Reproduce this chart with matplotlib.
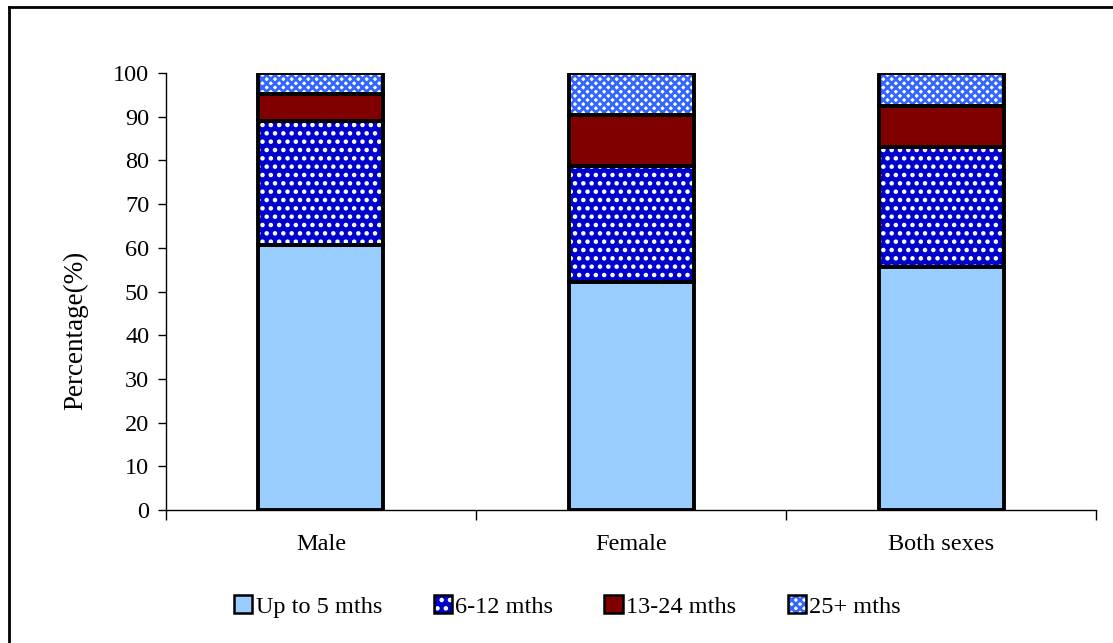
import matplotlib
matplotlib.use("Agg")
import matplotlib.pyplot as plt
import numpy as np
from matplotlib.patches import Patch

categories = ["Male", "Female", "Both sexes"]
series_names = ["Up to 5 mths", "6-12 mths", "13-24 mths", "25+ mths"]
up_to_5 = [60.6, 52.1, 55.5]
m6_12 = [28.3, 26.7, 27.6]
m13_24 = [6.3, 11.6, 9.4]
m25_plus = [4.8, 9.6, 7.5]
yticks = list(range(0, 101, 10))

plt.rcParams['font.family'] = ['Liberation Serif', 'DejaVu Serif']
plt.rcParams['hatch.linewidth'] = 2.0

fig = plt.figure(figsize=(11.13, 6.43), dpi=100)
ax = fig.add_axes([0.149, 0.2068, 0.836, 0.6797])

x = np.arange(len(categories))
w = 0.403
series = [up_to_5, m6_12, m13_24, m25_plus]
faces = ['#99CCFF', '#0000CC', '#800000', 'white']
hatches = [None, '..', None, 'xxxx']
hcolors = [None, 'white', None, '#3366FF']

bottom = np.zeros(len(categories))
for vals, fc, h, hc in zip(series, faces, hatches, hcolors):
    vals = np.array(vals)
    if h:
        ax.bar(x, vals, w, bottom=bottom, color=fc, hatch=h, edgecolor=hc, linewidth=0, zorder=2)
        ax.bar(x, vals, w, bottom=bottom, facecolor='none', edgecolor='black', linewidth=2.8, zorder=3)
    else:
        ax.bar(x, vals, w, bottom=bottom, color=fc, edgecolor='black', linewidth=2.8, zorder=3)
    bottom += vals

handles = []
for fc, h, hc, name in zip(faces, hatches, hcolors, series_names):
    if h:
        p = Patch(facecolor=fc, hatch=h, edgecolor=hc, linewidth=0, label=name)
        q = Patch(facecolor='none', edgecolor='black', linewidth=1.8)
        handles.append((p, q))
    else:
        handles.append(Patch(facecolor=fc, edgecolor='black', linewidth=1.8, label=name))

ax.set_xlim(-0.5, len(categories) - 0.5)
ax.set_ylim(0, 100)
ax.set_yticks(yticks)
ax.set_xticks(x)
ax.set_xticklabels(categories)
ax.set_xticks(np.arange(-0.5, len(categories), 1.0), minor=True)
ax.tick_params(axis='x', which='major', length=0, labelsize=17.5, pad=17)
ax.tick_params(axis='x', which='minor', length=7, width=1, direction='out')
ax.tick_params(axis='y', length=6, width=1, direction='out', labelsize=17.5, pad=6)
ax.spines['top'].set_visible(False)
ax.spines['right'].set_visible(False)
ax.spines['left'].set_linewidth(1)
ax.spines['bottom'].set_linewidth(1)
ax.set_ylabel("Percentage(%)", fontsize=19.5)
ax.yaxis.set_label_coords(-0.083, 0.41)

fig.legend(handles=handles, labels=series_names, loc='center', bbox_to_anchor=(0.51, 0.057), ncol=4,
           frameon=False, fontsize=17.5, handlelength=0.75, handleheight=0.75, handletextpad=0.15,
           columnspacing=2.1)

# figure frame (top and left edges visible)
fig.add_artist(plt.Line2D([0.008, 0.008], [0.0, 0.989], transform=fig.transFigure, color='black', lw=2))
fig.add_artist(plt.Line2D([0.008, 1.0], [0.989, 0.989], transform=fig.transFigure, color='black', lw=2))

fig.savefig("out.png", dpi=100)
